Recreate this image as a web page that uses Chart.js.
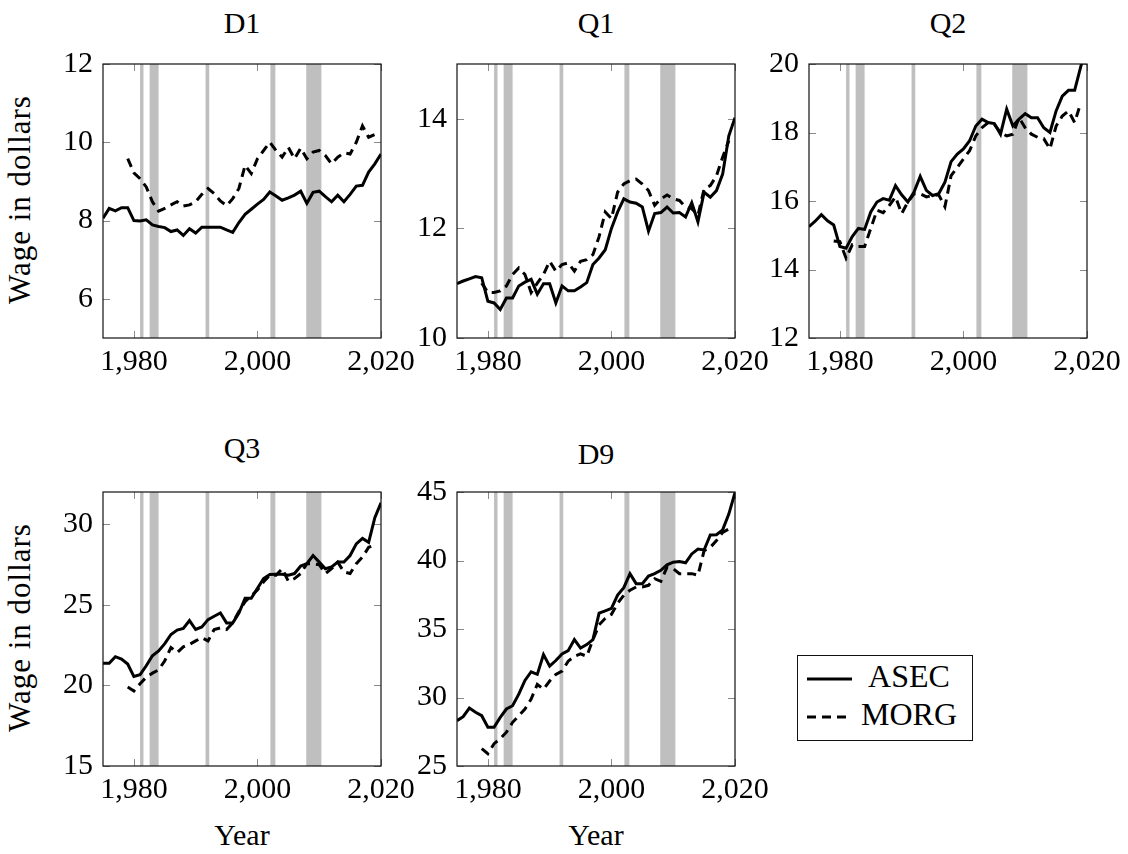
<!DOCTYPE html>
<html>
<head>
<meta charset="utf-8">
<title>Wages by percentile</title>
<script src="https://cdn.jsdelivr.net/npm/chart.js@4.4.1/dist/chart.umd.min.js"></script>
<style>
  html, body { margin: 0; padding: 0; background: #fff; width: 1128px; height: 854px; overflow: hidden; }
  canvas { position: absolute; }
  #labels { position: absolute; left: 0; top: 0; font-family: "Liberation Serif", "Times New Roman", Times, "DejaVu Serif", serif; font-size: 30px; }
</style>
</head>
<body>
<svg id="labels" width="1128" height="854"></svg>
<script>
// years on the x axis
const asecYears = [1975, 1976, 1977, 1978, 1979, 1980, 1981, 1982, 1983, 1984,
  1985, 1986, 1987, 1988, 1989, 1990, 1991, 1992, 1993, 1994,
  1995, 1996, 1997, 1998, 1999, 2000, 2001, 2002, 2003, 2004,
  2005, 2006, 2007, 2008, 2009, 2010, 2011, 2012, 2013, 2014,
  2015, 2016, 2017, 2018, 2019, 2020];
const morgYears = [1979, 1980, 1981, 1982, 1983, 1984, 1985, 1986, 1987, 1988,
  1989, 1990, 1991, 1992, 1993, 1994, 1995, 1996, 1997, 1998,
  1999, 2000, 2001, 2002, 2003, 2004, 2005, 2006, 2007, 2008,
  2009, 2010, 2011, 2012, 2013, 2014, 2015, 2016, 2017, 2018, 2019];

// D1
const d1Asec = [8.06, 8.31, 8.25, 8.33, 8.33, 8.0, 7.99, 8.02, 7.89, 7.85,
  7.82, 7.72, 7.76, 7.62, 7.79, 7.68, 7.83, 7.83, 7.83, 7.83,
  7.76, 7.7, 7.95, 8.16, 8.29, 8.42, 8.54, 8.73, 8.63, 8.52,
  8.58, 8.65, 8.75, 8.44, 8.72, 8.75, 8.61, 8.48, 8.65, 8.48,
  8.67, 8.88, 8.9, 9.24, 9.45, 9.7];
const d1Morg = [9.58, 9.22, 9.07, 8.86, 8.48, 8.24, 8.31, 8.4, 8.48, 8.37,
  8.4, 8.48, 8.67, 8.82, 8.69, 8.5, 8.38, 8.56, 8.82, 9.41,
  9.2, 9.58, 9.79, 10.0, 9.79, 9.62, 9.87, 9.58, 9.85, 9.58,
  9.75, 9.79, 9.66, 9.45, 9.62, 9.73, 9.7, 10.0, 10.42, 10.13, 10.2];

// Q1
const q1Asec = [10.99, 11.04, 11.08, 11.12, 11.1, 10.67, 10.64, 10.52, 10.73, 10.73,
  10.95, 11.02, 11.07, 10.8, 10.99, 10.99, 10.64, 10.95, 10.86, 10.86,
  10.93, 11.01, 11.34, 11.46, 11.61, 12.0, 12.3, 12.54, 12.48, 12.46,
  12.39, 11.95, 12.27, 12.29, 12.39, 12.28, 12.29, 12.21, 12.47, 12.12,
  12.66, 12.57, 12.69, 12.99, 13.69, 14.02];
const q1Morg = [11.0, 10.83, 10.83, 10.86, 10.95, 11.16, 11.28, 11.16, 10.83, 11.0,
  11.16, 11.4, 11.22, 11.34, 11.37, 11.22, 11.4, 11.43, 11.52, 11.85,
  12.3, 12.18, 12.66, 12.81, 12.87, 12.9, 12.81, 12.69, 12.42, 12.54,
  12.61, 12.54, 12.51, 12.39, 12.36, 12.24, 12.72, 12.78, 12.96, 13.3, 13.6];

// Q2
const q2Asec = [15.25, 15.41, 15.6, 15.42, 15.3, 14.67, 14.62, 14.96, 15.2, 15.17,
  15.68, 15.97, 16.07, 16.02, 16.45, 16.18, 15.97, 16.26, 16.72, 16.31,
  16.16, 16.21, 16.55, 17.15, 17.37, 17.52, 17.76, 18.19, 18.39, 18.29,
  18.26, 17.95, 18.68, 18.19, 18.39, 18.55, 18.43, 18.43, 18.14, 18.0,
  18.63, 19.06, 19.23, 19.23, 19.93, 20.6];
const q2Morg = [14.83, 14.81, 14.33, 14.72, 14.67, 14.67, 15.2, 15.73, 15.66, 15.87,
  16.12, 15.63, 15.97, 16.21, 16.21, 16.12, 16.16, 16.18, 15.83, 16.74,
  16.98, 17.23, 17.47, 17.9, 18.14, 18.29, 18.24, 18.0, 17.9, 17.95,
  18.43, 18.14, 17.95, 17.86, 17.82, 17.52, 18.19, 18.48, 18.63, 18.29, 18.87];

// Q3
const q3Asec = [21.37, 21.37, 21.78, 21.63, 21.33, 20.55, 20.67, 21.22, 21.84, 22.14,
  22.59, 23.16, 23.43, 23.53, 24.02, 23.47, 23.63, 24.08, 24.29, 24.49,
  23.88, 23.88, 24.49, 25.41, 25.41, 26.02, 26.63, 26.88, 26.9, 26.9,
  26.84, 26.94, 27.41, 27.55, 28.06, 27.65, 27.24, 27.35, 27.65, 27.65,
  28.06, 28.78, 29.12, 28.88, 30.41, 31.33];
const q3Morg = [19.9, 19.65, 20.1, 20.51, 20.76, 20.96, 21.53, 22.35, 22.04, 22.39,
  22.55, 22.76, 22.96, 22.76, 23.47, 23.57, 23.47, 23.88, 24.59, 25.2,
  25.57, 25.92, 26.43, 26.84, 26.84, 27.24, 26.47, 26.63, 26.94, 27.55,
  27.55, 27.49, 26.94, 27.24, 27.65, 27.04, 26.94, 27.55, 27.96, 28.57, 28.7];

// D9
const d9Asec = [28.31, 28.6, 29.23, 28.92, 28.67, 27.83, 27.83, 28.55, 29.16, 29.4,
  30.24, 31.25, 31.88, 31.69, 33.13, 32.29, 32.7, 33.18, 33.42, 34.23,
  33.61, 33.86, 34.23, 36.16, 36.33, 36.51, 37.47, 38.02, 39.04, 38.31,
  38.31, 38.87, 39.04, 39.28, 39.69, 39.88, 39.93, 39.83, 40.48, 40.84,
  40.77, 41.86, 41.88, 42.24, 43.39, 44.95];
const d9Morg = [26.27, 25.9, 26.63, 26.99, 27.47, 28.19, 28.67, 29.16, 29.88, 30.96,
  30.6, 31.2, 31.69, 31.93, 32.65, 33.01, 33.18, 33.01, 34.22, 35.3,
  35.78, 36.07, 36.87, 37.47, 37.83, 38.07, 38.07, 38.19, 38.67, 38.48,
  39.52, 39.4, 39.04, 39.04, 39.04, 38.92, 40.72, 40.96, 41.45, 42.05, 42.3];

// recession shading (in plot years)
const recessionStart = [1981.0, 1982.55, 1991.6, 2002.1, 2007.9];
const recessionEnd = [1981.55, 1984.0, 1992.2, 2002.9, 2010.35];

// tick labels
const xTicks = [1980, 2000, 2020];
const d1Ticks = [6, 8, 10, 12];
const q1Ticks = [10, 12, 14];
const q2Ticks = [12, 14, 16, 18, 20];
const q3Ticks = [15, 20, 25, 30];
const d9Ticks = [25, 30, 35, 40, 45];

const panels = [
  { title: "D1", asec: d1Asec, morg: d1Morg, yMin: 5, yMax: 12, yTicks: d1Ticks },
  { title: "Q1", asec: q1Asec, morg: q1Morg, yMin: 10, yMax: 15, yTicks: q1Ticks },
  { title: "Q2", asec: q2Asec, morg: q2Morg, yMin: 12, yMax: 20, yTicks: q2Ticks },
  { title: "Q3", asec: q3Asec, morg: q3Morg, yMin: 15, yMax: 32, yTicks: q3Ticks },
  { title: "D9", asec: d9Asec, morg: d9Morg, yMin: 25, yMax: 45, yTicks: d9Ticks },
];

// plot box positions on the page
const boxes = [
  { left: 103, top: 61, titleY: 33, yLabel: true },
  { left: 457, top: 61, titleY: 33 },
  { left: 809, top: 61, titleY: 33 },
  { left: 103, top: 489, titleY: 458, yLabel: true, xLabel: true },
  { left: 457, top: 489, titleY: 464, xLabel: true },
];
const BOX_W = 278, BOX_H = 277;
const PAD_L = 100, PAD_T = 25, PAD_R = 45, PAD_B = 50;

const FONT = '"Liberation Serif", "Times New Roman", Times, "DejaVu Serif", serif';
Chart.defaults.font.family = FONT;
Chart.defaults.font.size = 30;
Chart.defaults.color = "#000";

const panelDecor = {
  id: "panelDecor",
  beforeDatasetsDraw(chart) {
    const { ctx, chartArea: a, scales: { x, y } } = chart;
    ctx.save();
    ctx.fillStyle = "#bfbfbf";
    recessionStart.forEach((s, i) => {
      const x0 = x.getPixelForValue(s);
      const x1 = x.getPixelForValue(recessionEnd[i]);
      ctx.fillRect(x0, a.top, x1 - x0, a.bottom - a.top);
    });
    // little inward ticks on all four sides
    ctx.strokeStyle = "#8a8a8a";
    ctx.lineWidth = 1;
    ctx.beginPath();
    y.ticks.forEach(t => {
      const py = Math.round(y.getPixelForValue(t.value)) + 0.5;
      ctx.moveTo(a.left, py); ctx.lineTo(a.left + 7, py);
      ctx.moveTo(a.right, py); ctx.lineTo(a.right - 7, py);
    });
    x.ticks.forEach(t => {
      const px = Math.round(x.getPixelForValue(t.value)) + 0.5;
      ctx.moveTo(px, a.top); ctx.lineTo(px, a.top + 7);
      ctx.moveTo(px, a.bottom); ctx.lineTo(px, a.bottom - 7);
    });
    ctx.stroke();
    ctx.restore();
  },
  afterDatasetsDraw(chart) {
    const { ctx, chartArea: a } = chart;
    ctx.save();
    ctx.strokeStyle = "#111";
    ctx.lineWidth = 1.2;
    ctx.strokeRect(a.left, a.top, a.right - a.left, a.bottom - a.top);
    ctx.restore();
  }
};

function buildPanel(p, box) {
  const canvas = document.createElement("canvas");
  canvas.width = PAD_L + BOX_W + PAD_R;
  canvas.height = PAD_T + BOX_H + PAD_B;
  canvas.style.left = (box.left - PAD_L) + "px";
  canvas.style.top = (box.top - PAD_T) + "px";
  document.body.appendChild(canvas);

  new Chart(canvas, {
    type: "line",
    data: {
      datasets: [
        {
          label: "ASEC",
          data: asecYears.map((yr, i) => ({ x: yr, y: p.asec[i] })),
          borderColor: "#000",
          borderWidth: 3,
          pointRadius: 0,
          tension: 0,
          fill: false
        },
        {
          label: "MORG",
          data: morgYears.map((yr, i) => ({ x: yr, y: p.morg[i] })),
          borderColor: "#000",
          borderWidth: 3,
          borderDash: [9, 6],
          pointRadius: 0,
          tension: 0,
          fill: false
        }
      ]
    },
    options: {
      responsive: false,
      animation: false,
      layout: { padding: { left: 0, top: PAD_T, right: PAD_R, bottom: 0 } },
      plugins: { legend: { display: false }, tooltip: { enabled: false } },
      scales: {
        x: {
          type: "linear",
          min: 1975,
          max: 2020,
          afterBuildTicks: s => { s.ticks = xTicks.map(v => ({ value: v })); },
          afterFit: s => { s.height = PAD_B; },
          grid: { display: false, drawTicks: false },
          border: { display: false },
          ticks: {
            padding: 6,
            maxRotation: 0,
            autoSkip: false,
            callback: v => Number(v).toLocaleString("en-US")
          }
        },
        y: {
          type: "linear",
          min: p.yMin,
          max: p.yMax,
          afterBuildTicks: s => { s.ticks = p.yTicks.map(v => ({ value: v })); },
          afterFit: s => { s.width = PAD_L; },
          grid: { display: false, drawTicks: false },
          border: { display: false },
          ticks: { padding: 10, autoSkip: false }
        }
      }
    },
    plugins: [panelDecor]
  });
}

panels.forEach((p, i) => buildPanel(p, boxes[i]));

// text around the panels
const svg = document.getElementById("labels");
const NS = "http://www.w3.org/2000/svg";
function addText(str, x, y, extra) {
  const t = document.createElementNS(NS, "text");
  t.setAttribute("x", x);
  t.setAttribute("y", y);
  t.setAttribute("text-anchor", "middle");
  if (extra) Object.keys(extra).forEach(k => t.setAttribute(k, extra[k]));
  t.textContent = str;
  svg.appendChild(t);
  return t;
}
function addLine(x1, y1, x2, y2, dash) {
  const l = document.createElementNS(NS, "line");
  l.setAttribute("x1", x1); l.setAttribute("y1", y1);
  l.setAttribute("x2", x2); l.setAttribute("y2", y2);
  l.setAttribute("stroke", "#000");
  l.setAttribute("stroke-width", 3);
  if (dash) l.setAttribute("stroke-dasharray", dash);
  svg.appendChild(l);
}

panels.forEach((p, i) => {
  const b = boxes[i];
  const cx = b.left + BOX_W / 2;
  addText(p.title, cx, b.titleY);
  if (b.yLabel) {
    const cy = b.top + BOX_H / 2;
    addText("Wage in dollars", 0, 0, {
      transform: `translate(30,${cy}) rotate(-90)`,
      "font-size": 31,
      "letter-spacing": 1
    });
  }
  if (b.xLabel) addText("Year", cx, 845);
});

// legend
const rect = document.createElementNS(NS, "rect");
rect.setAttribute("x", 797.5); rect.setAttribute("y", 655.5);
rect.setAttribute("width", 175); rect.setAttribute("height", 85);
rect.setAttribute("fill", "#fff"); rect.setAttribute("stroke", "#111");
rect.setAttribute("stroke-width", 1);
svg.appendChild(rect);
addLine(807, 679, 852, 679);
addLine(807, 717, 846, 717, "9 6");
addText("ASEC", 909, 687, { "font-size": 32 });
addText("MORG", 909, 725, { "font-size": 32 });
</script>
</body>
</html>
